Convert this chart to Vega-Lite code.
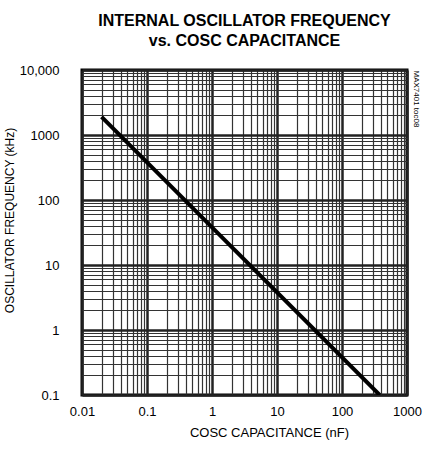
{
  "$schema": "https://vega.github.io/schema/vega-lite/v6.json",
  "width": 325,
  "height": 325,
  "autosize": {"type": "none"},
  "padding": {"left": 82, "top": 70, "right": 19, "bottom": 58},
  "background": "white",
  "config": {
    "font": "Liberation Sans",
    "view": {"stroke": "black", "strokeWidth": 3}
  },
  "title": {
    "text": ["INTERNAL OSCILLATOR FREQUENCY", "vs. COSC CAPACITANCE"],
    "font": "Liberation Sans",
    "fontSize": 16,
    "fontWeight": "bold",
    "lineHeight": 20,
    "anchor": "middle",
    "offset": 15,
    "color": "black"
  },
  "data": {"values": [
    {"c": 0.02, "f": 1900},
    {"c": 380, "f": 0.1}
  ]},
  "resolve": {"axis": {"y": "independent"}},
  "layer": [
    {
      "mark": {"type": "line", "color": "black", "strokeWidth": 4, "clip": true},
      "encoding": {
        "x": {
          "field": "c", "type": "quantitative",
          "scale": {"type": "log", "domain": [0.01, 1000], "nice": false},
          "axis": {
            "title": "COSC CAPACITANCE (nF)",
            "values": [0.01,0.02,0.03,0.04,0.05,0.06,0.07,0.08,0.09,0.1,0.2,0.3,0.4,0.5,0.6,0.7,0.8,0.9,1,2,3,4,5,6,7,8,9,10,20,30,40,50,60,70,80,90,100,200,300,400,500,600,700,800,900,1000],
            "labelExpr": "indexof([0.01,0.1,1,10,100,1000], datum.value) >= 0 ? datum.value + '' : ''",
            "grid": true,
            "gridColor": {"condition": {"test": "indexof([0.01,0.1,1,10,100,1000], datum.value) >= 0", "value": "#222"}, "value": "#333"},
            "gridWidth": {"condition": {"test": "indexof([0.01,0.1,1,10,100,1000], datum.value) >= 0", "value": 2.5}, "value": 1.2},
            "ticks": false,
            "domain": false,
            "labelPadding": 10,
            "labelFontSize": 13,
            "labelColor": "black",
            "labelFlush": false,
            "labelOverlap": false,
            "titleFontSize": 13,
            "titleFontWeight": "normal",
            "titleColor": "black",
            "titlePadding": 8,
            "titleX": 187
          }
        },
        "y": {
          "field": "f", "type": "quantitative",
          "scale": {"type": "log", "domain": [0.1, 10000], "nice": false},
          "axis": {
            "title": "OSCILLATOR FREQUENCY (kHz)",
            "values": [0.1,0.2,0.3,0.4,0.5,0.6,0.7,0.8,0.9,1,2,3,4,5,6,7,8,9,10,20,30,40,50,60,70,80,90,100,200,300,400,500,600,700,800,900,1000,2000,3000,4000,5000,6000,7000,8000,9000,10000],
            "labelExpr": "datum.value == 10000 ? '10,000' : (indexof([0.1,1,10,100,1000], datum.value) >= 0 ? datum.value + '' : '')",
            "grid": true,
            "gridColor": {"condition": {"test": "indexof([0.1,1,10,100,1000,10000], datum.value) >= 0", "value": "#222"}, "value": "#333"},
            "gridWidth": {"condition": {"test": "indexof([0.1,1,10,100,1000,10000], datum.value) >= 0", "value": 2.5}, "value": 1.2},
            "ticks": false,
            "domain": false,
            "labelPadding": 23,
            "labelFontSize": 13,
            "labelColor": "black",
            "labelFlush": false,
            "labelOverlap": false,
            "titleFontSize": 12,
            "titleFontWeight": "normal",
            "titleColor": "black",
            "titlePadding": 3,
            "titleY": 150
          }
        }
      }
    },
    {
      "mark": {"type": "line", "opacity": 0},
      "encoding": {
        "x": {"field": "c", "type": "quantitative"},
        "y": {
          "field": "f", "type": "quantitative",
          "axis": {
            "orient": "right",
            "title": "MAX7401 toc08",
            "titleAnchor": "end",
            "titleAlign": "left",
            "titleFontSize": 8,
            "titleFontWeight": "normal",
            "titleColor": "black",
            "titlePadding": 4,
            "labels": false,
            "ticks": false,
            "domain": false,
            "grid": false
          }
        }
      }
    }
  ]
}
